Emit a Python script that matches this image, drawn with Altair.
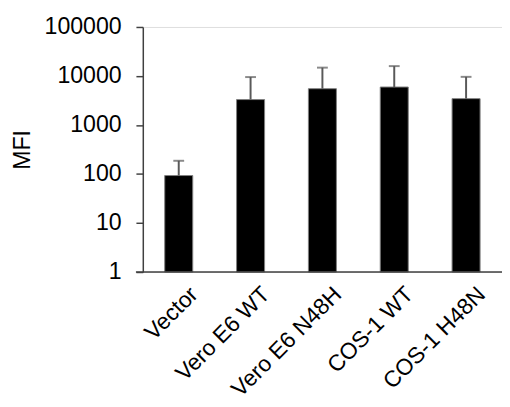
import altair as alt
import pandas as pd

categories = ["Vector", "Vero E6 WT", "Vero E6 N48H", "COS-1 WT", "COS-1 H48N"]
mfi = [93, 3300, 5500, 5950, 3450]
err_top = [186, 9500, 14800, 15900, 9600]
y_ticks = [1, 10, 100, 1000, 10000, 100000]

df = pd.DataFrame({"cat": categories, "mfi": mfi, "top": err_top, "base": [1] * len(categories)})

W, H = 365, 249
FONT = "Arial, Liberation Sans, sans-serif"
FS = 23.5

x_enc = alt.X("cat:N", sort=categories,
              scale=alt.Scale(paddingInner=0.61, paddingOuter=0.305),
              axis=alt.Axis(title=None, labelAngle=-45, ticks=False, domain=False,
                            labelFontSize=23, labelFont=FONT, labelColor="black",
                            labelPadding=11, labelOffset=8))
y_scale = alt.Scale(type="log", domain=[1, 100000])

base = alt.Chart(df)

bars = base.mark_bar(color="black", stroke="#7f7f7f", strokeWidth=1).encode(
    x=x_enc,
    y=alt.Y("mfi:Q", scale=y_scale,
            axis=alt.Axis(title="MFI", values=y_ticks, format="d", grid=False,
                          labelFontSize=FS, labelFont=FONT, labelColor="black",
                          titleFontSize=FS, titleFont=FONT, titleFontWeight="normal",
                          titleColor="black", titlePadding=10,
                          tickSize=7, tickColor="#404040", domainColor="#404040",
                          tickWidth=1.5, domainWidth=1.5, labelPadding=15)),
    y2="base:Q",
)

err = base.mark_rule(color="#595959", strokeWidth=2).encode(
    x=alt.X("cat:N", sort=categories),
    y=alt.Y("mfi:Q", scale=y_scale),
    y2="top:Q",
)

caps = base.mark_tick(color="#595959", thickness=2, size=11).encode(
    x=alt.X("cat:N", sort=categories),
    y=alt.Y("top:Q", scale=y_scale),
)

xline = alt.Chart(pd.DataFrame({"a": [0]})).mark_rule(color="#404040", strokeWidth=1.5).encode(
    x=alt.value(-7), x2=alt.value(W), y=alt.value(H)
)

chart = alt.layer(bars, err, caps, xline).properties(
    width=W, height=H,
    autosize=alt.AutoSizeParams(type="none"),
    padding={"left": 137, "top": 16, "right": 0, "bottom": 140},
).configure_view(stroke=None).configure(background="white")

chart.save("out.html", embed_options={"renderer": "svg", "actions": False})
